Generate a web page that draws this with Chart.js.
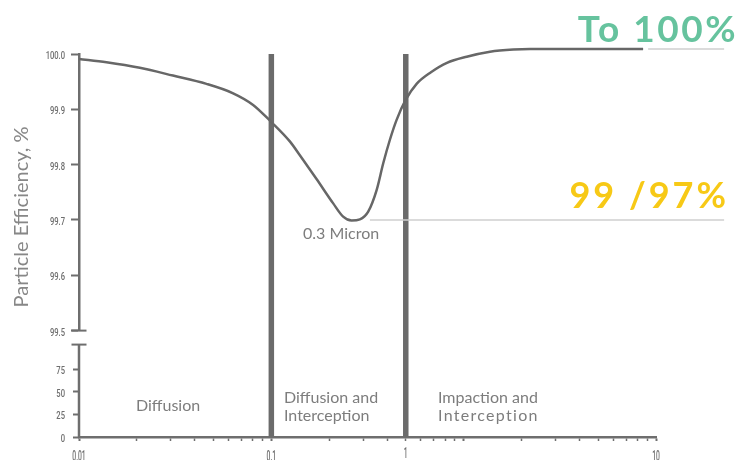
<!DOCTYPE html>
<html>
<head>
<meta charset="utf-8">
<title>Particle Efficiency</title>
<script src="https://cdn.jsdelivr.net/npm/chart.js@4.4.1/dist/chart.umd.min.js"></script>
<style>
  html, body { margin: 0; padding: 0; background: #fff; }
  canvas { display: block; }
</style>
</head>
<body>
<canvas id="efficiencyChart" width="742" height="460"></canvas>
<script>
// Particle size (micron, log axis) against filter efficiency (%)
const particleSize = [0.01, 0.0139, 0.0207, 0.0308, 0.046, 0.0633, 0.0804, 0.1, 0.1248, 0.1407,
    0.1718, 0.2097, 0.2363, 0.2614, 0.2887, 0.3189, 0.3527, 0.3815, 0.4135, 0.4481,
    0.4992, 0.5693, 0.6757, 0.8186, 1.037, 1.371, 1.812, 2.213, 8.57];
const efficiency = [99.991, 99.985, 99.975, 99.961, 99.946, 99.929, 99.908, 99.877, 99.842, 99.817,
    99.774, 99.730, 99.706, 99.699, 99.701, 99.715, 99.754, 99.802, 99.845, 99.881,
    99.917, 99.946, 99.967, 99.984, 99.995, 100.004, 100.008, 100.009, 100.009];

// Guide lines running out to the right hand labels
const lowGuideSize = [0.3255, 22.6];
const lowGuideLevel = 99.7;
const topGuideSize = [9.1, 22.6];
const topGuideLevel = 100.009;

// Region boundaries (drawn as thick bars) and region names
const regionBounds = [0.1, 0.5];
const regionLabels = [['Diffusion'], ['Diffusion and', 'Interception'], ['Impaction and', 'Interception']];

// Axis ticks
const xMajorTicks = [0.01, 0.1, 1, 10];
const xTickLabels = ['0.01', '0.1', '', '10'];
const boundLabels = ['', '1'];
const upperTicks = [99.5, 99.6, 99.7, 99.8, 99.9, 100.0];
const lowerTicks = [0, 25, 50, 75];

const AXIS = '#6e6e6e';
const TEXT = '#7d7d7d';
const SANS = "Lato, 'Open Sans', sans-serif";

// minor ticks 2..9 inside each decade
const xTickValues = [];
xMajorTicks.forEach((d, i) => {
    xTickValues.push(d);
    if (i < xMajorTicks.length - 1) {
        for (let m = 2; m <= 9; m++) xTickValues.push(d * m);
    }
});

const toPoints = (xs, ys) => xs.map((v, i) => ({ x: v, y: Array.isArray(ys) ? ys[i] : ys }));

// tick labels in the original use a tall condensed face, squeeze a normal one
function narrowText(ctx, text, px, py, align, font, squeeze) {
    ctx.save();
    ctx.translate(px, py);
    ctx.scale(squeeze, 1);
    ctx.font = font;
    ctx.fillStyle = AXIS;
    ctx.textAlign = align;
    ctx.textBaseline = 'alphabetic';
    ctx.fillText(text, 0, 0);
    ctx.restore();
}

const decorPlugin = {
    id: 'decor',
    beforeDatasetsDraw(chart) {
        const { ctx, scales: { x, y, y2 } } = chart;
        ctx.save();
        // thick region boundary bars
        ctx.fillStyle = '#6b6b6b';
        const top = y.getPixelForValue(100);
        const bottom = y2.getPixelForValue(0);
        regionBounds.forEach(b => {
            const px = x.getPixelForValue(b);
            ctx.fillRect(px - 2.75, top, 5.5, bottom - top);
        });
        ctx.restore();
    },
    afterDraw(chart) {
        const { ctx, scales: { x, y, y2 } } = chart;
        ctx.save();

        // lower axis segment plus the break marks
        const ax = y2.right;
        const breakTop = y2.getPixelForValue(102.5);
        const breakBottom = y.getPixelForValue(99.5);
        ctx.strokeStyle = AXIS;
        ctx.lineWidth = 2.5;
        ctx.beginPath();
        ctx.moveTo(ax, breakTop);
        ctx.lineTo(ax, y2.getPixelForValue(0));
        ctx.stroke();
        ctx.lineWidth = 2;
        [breakTop, breakBottom].forEach(py => {
            ctx.beginPath();
            ctx.moveTo(ax - 7.5, py);
            ctx.lineTo(ax + 7.5, py);
            ctx.stroke();
        });

        // tick labels
        const yFont = '500 11.5px Roboto, sans-serif';
        const xFont = '500 15px Roboto, sans-serif';
        upperTicks.forEach(v => narrowText(ctx, v.toFixed(1), y.right - 14, y.getPixelForValue(v) + 5, 'right', yFont, 0.66));
        lowerTicks.forEach(v => narrowText(ctx, String(v), y2.right - 14, y2.getPixelForValue(v) + 5, 'right', yFont, 0.66));
        xMajorTicks.forEach((v, i) => {
            if (xTickLabels[i]) narrowText(ctx, xTickLabels[i], x.getPixelForValue(v), x.top + 24, 'center', xFont, 0.45);
        });
        regionBounds.forEach((b, i) => {
            if (boundLabels[i]) narrowText(ctx, boundLabels[i], x.getPixelForValue(b), x.top + 21, 'center', xFont, 0.45);
        });

        // y axis title
        ctx.save();
        ctx.translate(22, 217);
        ctx.rotate(-Math.PI / 2);
        ctx.font = '20px ' + SANS;
        ctx.fillStyle = '#878787';
        ctx.textAlign = 'center';
        ctx.textBaseline = 'middle';
        ctx.fillText('Particle Efficiency, %', 0, 0);
        ctx.restore();

        // region names
        ctx.fillStyle = TEXT;
        ctx.textAlign = 'left';
        ctx.textBaseline = 'alphabetic';
        ctx.font = '16px ' + SANS;
        ctx.fillText(regionLabels[0][0], 136, 411);
        ctx.fillText(regionLabels[1][0], 284, 403);
        ctx.fillText(regionLabels[1][1], 284, 421);
        ctx.fillText(regionLabels[2][0], 438, 403);
        ctx.letterSpacing = '1.3px';
        ctx.fillText(regionLabels[2][1], 438, 421);
        ctx.letterSpacing = '0px';

        // minimum marker
        ctx.fillText('0.3 Micron', 303, 239);

        // right hand headline values
        ctx.textAlign = 'right';
        ctx.font = 'bold 37px ' + SANS;
        ctx.fillStyle = '#66c39e';
        ctx.letterSpacing = '2.5px';
        ctx.fillText('To 100%', 738, 42);
        ctx.font = 'bold 36px ' + SANS;
        ctx.fillStyle = '#f7c916';
        ctx.letterSpacing = '3px';
        ctx.fillText('99 /97%', 729, 208);
        ctx.letterSpacing = '0px';

        ctx.restore();
    }
};

new Chart(document.getElementById('efficiencyChart'), {
    type: 'line',
    data: {
        datasets: [{
            label: 'Efficiency',
            data: toPoints(particleSize, efficiency),
            yAxisID: 'y',
            borderColor: '#676767',
            borderWidth: 2.5,
            pointRadius: 0,
            cubicInterpolationMode: 'monotone',
            clip: false
        }, {
            label: 'Low guide',
            data: toPoints(lowGuideSize, lowGuideLevel),
            yAxisID: 'y',
            borderColor: '#cfcfcf',
            borderWidth: 1.5,
            pointRadius: 0,
            clip: false
        }, {
            label: 'Top guide',
            data: toPoints(topGuideSize, topGuideLevel),
            yAxisID: 'y',
            borderColor: '#cfcfcf',
            borderWidth: 1.5,
            pointRadius: 0,
            clip: false
        }]
    },
    options: {
        responsive: false,
        animation: false,
        layout: { padding: { left: 0, right: 86, top: 54, bottom: 0 } },
        plugins: {
            legend: { display: false },
            tooltip: { enabled: false }
        },
        scales: {
            x: {
                type: 'logarithmic',
                min: 0.01,
                max: 10,
                afterBuildTicks: s => { s.ticks = xTickValues.map(v => ({ value: v })); },
                afterFit: s => { s.height = 23; },
                ticks: { display: false, autoSkip: false },
                grid: {
                    drawOnChartArea: false,
                    tickLength: 4,
                    tickColor: AXIS,
                    tickWidth: c => (c.tick && xMajorTicks.includes(c.tick.value) ? 2 : 1.5)
                },
                border: { color: AXIS, width: 2.5 }
            },
            y: {
                type: 'linear',
                position: 'left',
                stack: 'eff',
                stackWeight: 2.6,
                weight: 1,
                min: 99.5,
                max: 100,
                afterBuildTicks: s => { s.ticks = upperTicks.map(v => ({ value: v })); },
                afterFit: s => { s.width = 79; },
                ticks: { display: false },
                grid: { drawOnChartArea: false, tickLength: 8, tickColor: AXIS, tickWidth: 2 },
                border: { color: AXIS, width: 2.5 }
            },
            y2: {
                type: 'linear',
                position: 'left',
                stack: 'eff',
                stackWeight: 1,
                weight: 0,
                min: 0,
                max: 118,
                afterBuildTicks: s => { s.ticks = lowerTicks.map(v => ({ value: v })); },
                afterFit: s => { s.width = 79; },
                ticks: { display: false },
                grid: { drawOnChartArea: false, tickLength: 6, tickColor: AXIS, tickWidth: 2 },
                border: { display: false }
            }
        }
    },
    plugins: [decorPlugin]
});
</script>
</body>
</html>
